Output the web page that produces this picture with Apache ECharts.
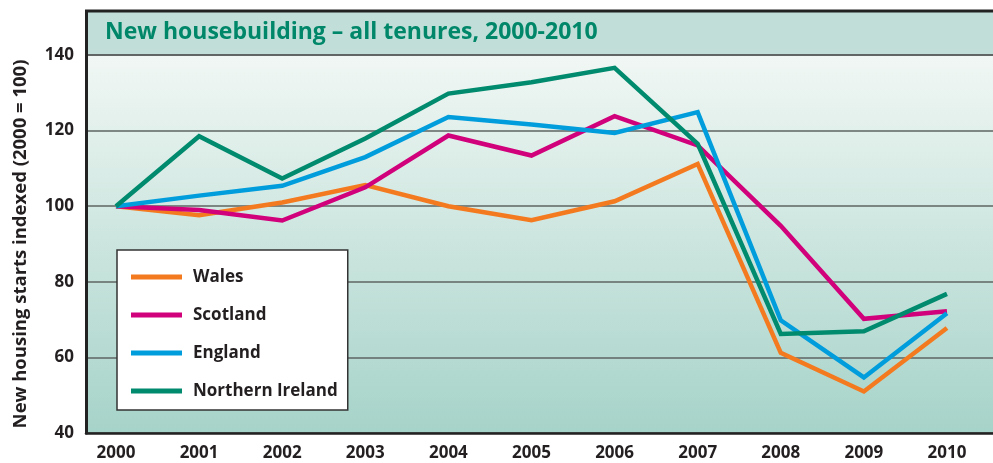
<!DOCTYPE html>
<html>
<head>
<meta charset="utf-8">
<title>New housebuilding - all tenures, 2000-2010</title>
<script src="https://cdn.jsdelivr.net/npm/echarts@6/dist/echarts.min.js"></script>
<style>
  html, body { margin: 0; padding: 0; background: #fff; }
  #chart { width: 993px; height: 463px; }
</style>
</head>
<body>
<div id="chart"></div>
<script>
const years = [2000, 2001, 2002, 2003, 2004, 2005, 2006, 2007, 2008, 2009, 2010];
const wales = [100, 97.6, 101, 105.6, 100, 96.3, 101.3, 111.2, 61.2, 51, 67.8];
const scotland = [100, 99, 96.2, 105, 118.7, 113.4, 123.8, 116.1, 94.8, 70.2, 72.2];
const england = [100, 102.8, 105.4, 113, 123.6, 121.6, 119.4, 124.9, 69.8, 54.7, 71.7];
const northernIreland = [100, 118.5, 107.3, 117.9, 129.8, 132.8, 136.6, 116.5, 66.2, 66.9, 76.8];
const yTicks = [40, 60, 80, 100, 120, 140];

const font = "Open Sans";
const ink = "#231f20";

const pairs = (vals) => years.map((y, i) => [y, vals[i]]);

const chart = echarts.init(document.getElementById("chart"));

const makeLine = (name, color, vals) => ({
  name: name,
  type: "line",
  showSymbol: false,
  symbol: "none",
  lineStyle: { color: color, width: 4.5, join: "miter" },
  itemStyle: { color: color },
  data: pairs(vals),
});

const option = {
  animation: false,
  backgroundColor: "#fff",
  grid: {
    left: 86,
    right: 0,
    top: 55,
    bottom: 30,
  },
  graphic: [
    // plot background, light at top to teal at bottom
    {
      type: "rect",
      z: -10,
      shape: { x: 86, y: 55, width: 907, height: 378 },
      style: {
        fill: new echarts.graphic.LinearGradient(0, 0, 0, 1, [
          { offset: 0, color: "#f1f7f4" },
          { offset: 1, color: "#a6d3c9" },
        ]),
      },
    },
    // title bar
    {
      type: "rect",
      z: -10,
      shape: { x: 86, y: 11, width: 912, height: 44 },
      style: { fill: "#c1dfd8", stroke: "#444", lineWidth: 1.5 },
    },
    {
      type: "line",
      z: 5,
      shape: { x1: 85, y1: 11, x2: 993, y2: 11 },
      style: { stroke: "#222", lineWidth: 3 },
    },
    {
      type: "line",
      z: 5,
      shape: { x1: 86.5, y1: 10, x2: 86.5, y2: 56 },
      style: { stroke: "#222", lineWidth: 3 },
    },
    {
      type: "text",
      z: 10,
      left: 105,
      top: 21,
      style: {
        text: "New housebuilding – all tenures, 2000-2010",
        fill: "#00876a",
        font: "bold 23px " + font,
      },
    },
  ],
  legend: {
    orient: "vertical",
    left: 117,
    top: 250,
    padding: [17, 10, 9, 14],
    itemGap: 18,
    itemWidth: 51,
    itemHeight: 5,
    icon: "rect",
    backgroundColor: "#fff",
    borderColor: "#333",
    borderWidth: 1.5,
    textStyle: {
      color: ink,
      fontFamily: font,
      fontWeight: "bold",
      fontSize: 17,
      lineHeight: 20,
      padding: [0, 0, 0, 6],
    },
    data: ["Wales", "Scotland", "England", "Northern Ireland"],
  },
  xAxis: {
    type: "value",
    min: 1999.639,
    max: 2010.554,
    axisLine: { show: true, lineStyle: { color: "#222", width: 2.5 } },
    axisTick: { show: false },
    splitLine: { show: false },
    axisLabel: {
      customValues: years,
      color: ink,
      fontFamily: font,
      fontWeight: "bold",
      fontSize: 17,
      margin: 12,
      formatter: (v) => String(v),
    },
  },
  yAxis: {
    type: "value",
    min: 40,
    max: 140,
    interval: 20,
    name: "New housing starts indexed (2000 = 100)",
    nameLocation: "middle",
    nameGap: 56,
    nameTextStyle: {
      color: ink,
      fontFamily: font,
      fontWeight: "bold",
      fontSize: 18.5,
    },
    axisLine: { show: true, lineStyle: { color: "#222", width: 3 } },
    axisTick: { show: false },
    splitLine: { show: true, lineStyle: { color: "#5e6462", width: 1.5 } },
    axisLabel: {
      customValues: yTicks,
      color: ink,
      fontFamily: font,
      fontWeight: "bold",
      fontSize: 17,
      margin: 12,
    },
  },
  series: [
    makeLine("Wales", "#f47a20", wales),
    makeLine("Scotland", "#d1007b", scotland),
    makeLine("England", "#009ddc", england),
    makeLine("Northern Ireland", "#008a6e", northernIreland),
  ],
};

chart.setOption(option);
</script>
</body>
</html>
